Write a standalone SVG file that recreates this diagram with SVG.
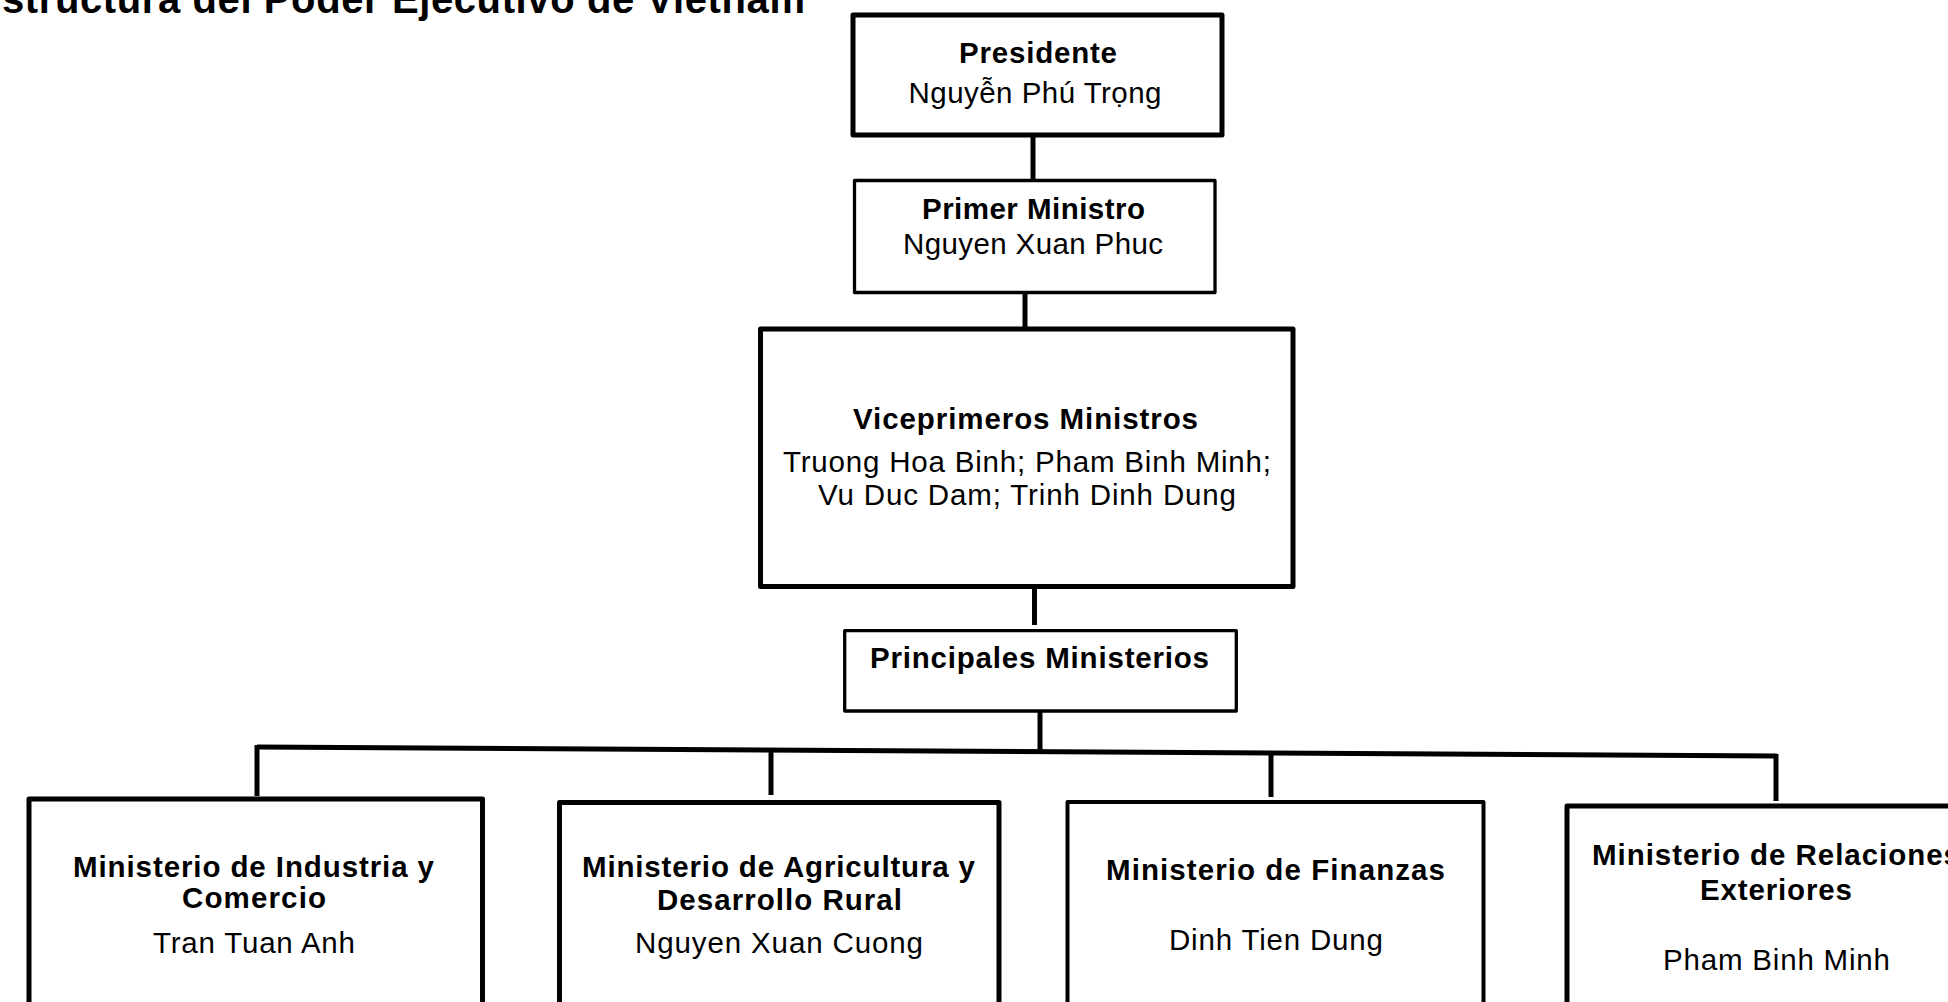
<svg xmlns="http://www.w3.org/2000/svg" width="1948" height="1002" viewBox="0 0 1948 1002">
<style>
  .bg { fill: #ffffff; }
  .box { fill: #ffffff; stroke: #000000; stroke-linejoin: round; }
  .thick { stroke-width: 5; }
  .thin { stroke-width: 3.3; }
  .mid { stroke-width: 4; }
  .conn { stroke: #000000; stroke-width: 5; fill: none; stroke-linecap: butt; }
  text { font-family: "Liberation Sans", Arial, Helvetica, sans-serif; font-size: 29.5px; fill: #000000; text-anchor: middle; }
  .b { font-weight: bold; }
  .title { font-size: 40px; font-weight: bold; text-anchor: start; }
</style>
<rect class="bg" x="0" y="0" width="1948" height="1002"/>
<text class="title" x="2" y="13" textLength="803">structura del Poder Ejecutivo de Vietnam</text>

<g id="connectors">
  <line class="conn" x1="1033" y1="137" x2="1033" y2="180"/>
  <line class="conn" x1="1025" y1="293" x2="1025" y2="330"/>
  <line class="conn" x1="1034.5" y1="583" x2="1034.5" y2="625"/>
  <line class="conn" x1="1040" y1="712" x2="1040" y2="752"/>
  <line class="conn" x1="257" y1="747" x2="1777" y2="756"/>
  <line class="conn" x1="257" y1="745" x2="257" y2="796"/>
  <line class="conn" x1="771" y1="749" x2="771" y2="795"/>
  <line class="conn" x1="1271" y1="751" x2="1271" y2="797"/>
  <line class="conn" x1="1776" y1="754" x2="1776" y2="801"/>
</g>

<g id="presidente">
  <rect class="box thick" x="853" y="15" width="369" height="120"/>
  <text class="b" x="1038" y="62.5" textLength="158">Presidente</text>
  <text x="1035" y="102.5" textLength="253">Nguyễn Phú Trọng</text>
</g>

<g id="primer-ministro">
  <rect class="box thin" x="854.5" y="180.5" width="360.5" height="112"/>
  <text class="b" x="1033.5" y="219" textLength="223">Primer Ministro</text>
  <text x="1033" y="253.5" textLength="260">Nguyen Xuan Phuc</text>
</g>

<g id="viceprimeros">
  <rect class="box thick" x="760.5" y="329" width="532.5" height="257.5"/>
  <text class="b" x="1025.5" y="429" textLength="345">Viceprimeros Ministros</text>
  <text x="1027" y="472" textLength="488">Truong Hoa Binh; Pham Binh Minh;</text>
  <text x="1027" y="505" textLength="418">Vu Duc Dam; Trinh Dinh Dung</text>
</g>

<g id="principales">
  <rect class="box thin" x="844.7" y="630.7" width="391.6" height="80.3"/>
  <text class="b" x="1039.5" y="668" textLength="339">Principales Ministerios</text>
</g>

<g id="min-industria">
  <rect class="box thick" x="29" y="799" width="453.5" height="260"/>
  <text class="b" x="253.5" y="877" textLength="361">Ministerio de Industria y</text>
  <text class="b" x="254" y="908" textLength="144">Comercio</text>
  <text x="254" y="953" textLength="202">Tran Tuan Anh</text>
</g>

<g id="min-agricultura">
  <rect class="box thick" x="559.5" y="802.5" width="439.5" height="260"/>
  <text class="b" x="778.5" y="877" textLength="393">Ministerio de Agricultura y</text>
  <text class="b" x="779.5" y="909.5" textLength="245">Desarrollo Rural</text>
  <text x="779" y="953" textLength="288">Nguyen Xuan Cuong</text>
</g>

<g id="min-finanzas">
  <rect class="box mid" x="1067.5" y="802" width="416" height="260"/>
  <text class="b" x="1275.5" y="880" textLength="339">Ministerio de Finanzas</text>
  <text x="1276" y="950" textLength="214">Dinh Tien Dung</text>
</g>

<g id="min-relaciones">
  <rect class="box thick" x="1567" y="806" width="418" height="260"/>
  <text class="b" x="1776" y="865" textLength="368">Ministerio de Relaciones</text>
  <text class="b" x="1776" y="900" textLength="152">Exteriores</text>
  <text x="1776.5" y="970" textLength="227">Pham Binh Minh</text>
</g>
</svg>
